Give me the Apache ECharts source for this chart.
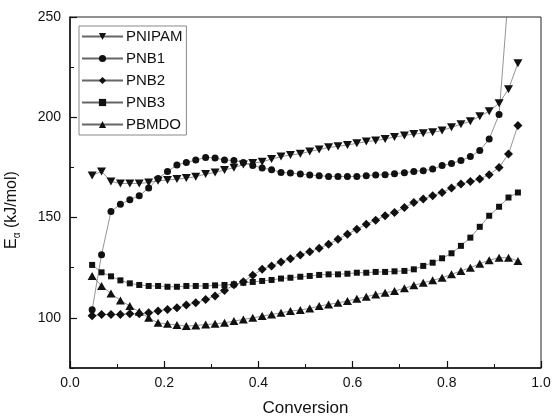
<!DOCTYPE html>
<html>
<head>
<meta charset="utf-8">
<script src="https://cdn.jsdelivr.net/npm/echarts@6/dist/echarts.min.js"></script>
<style>html,body{margin:0;padding:0;background:#fff}#c{width:552px;height:416px}</style>
</head>
<body>
<div id="c"></div>
<script>
const conversion = [0.047,0.067,0.087,0.107,0.127,0.147,0.167,0.187,0.207,0.227,0.247,0.267,0.288,0.308,0.328,0.348,0.368,0.388,0.408,0.428,0.448,0.468,0.489,0.509,0.529,0.549,0.569,0.589,0.609,0.629,0.649,0.669,0.689,0.710,0.730,0.750,0.770,0.790,0.810,0.830,0.850,0.870,0.890,0.911,0.931,0.951];
const seriesNames = ['PNIPAM','PNB1','PNB2','PNB3','PBMDO'];
const pnipam = [171,173,168,167,167,167,167.5,168.4,168.7,169.2,169.7,170.4,171.7,172.5,173.7,174.9,176.4,177.2,177.8,179.2,180.4,181.2,181.8,183,183.9,185,185.5,186.2,187,187.9,188.4,189.2,190.2,190.9,191.7,192,192.5,193.4,195,196.5,198,200.5,203,207,214,227];
const pnb1 = [104,131.5,153,156.7,158.9,160.9,164.7,169.5,173,176.2,177.5,178.7,180,179.7,178.7,178.5,177.5,176,174.7,173.9,172.5,172.2,171.7,171.2,170.9,170.5,170.5,170.5,170.5,170.9,171.2,171.4,171.8,172.4,173,173.4,174.2,175.9,177,178.4,180.4,183.4,189.2,201.4,262];
const pnb2 = [101,101.7,101.7,101.7,102,102,102.5,103.4,104.2,105,106.4,107.5,109.2,110.9,113.6,116.5,118,121.2,124.2,125.9,127.9,129.5,131.4,133,134.7,136.7,139.2,141.7,144.2,146.7,148.7,150.9,152.5,155,157.5,159.2,160.9,162.5,164.7,166.7,168,169.2,171.4,175,181.7,195.9];
const pnb3 = [126.4,122.7,120.7,118.7,117.2,116.4,115.9,115.9,115.5,115.5,115.9,115.9,115.9,116.2,116.4,116.7,117.5,117.9,118.4,118.9,119.6,120,120.5,120.9,121.4,121.7,121.7,122,122.5,122.5,122.9,122.9,123.2,123.4,124.2,125.9,127.5,129.7,132.2,135.9,140,145.4,150.9,155.4,160,162.5];
const pbmdo = [120.9,115.9,112.2,108.7,105.9,103,100,97.5,97,96.4,95.9,96.2,96.7,97,97.5,98.4,99.2,100,100.9,101.7,102.5,103.4,103.9,104.7,105.9,106.7,107.5,108.4,109.5,110.5,111.7,112.5,113.4,114.7,116.2,117.5,118.7,120,121.7,123.4,125,127,128.7,130,130,128.4];
const xTicks = [0.0,0.2,0.4,0.6,0.8,1.0];
const yTicks = [100,150,200,250];

const FONT = 'Liberation Sans, Arial, sans-serif';
function pts(arr){ const out=[]; for(let i=0;i<arr.length;i++){ out.push([conversion[i], arr[i]]); } return out; }
const styles = [
  {data: pnipam, symbol:'triangle', rotate:180, size:[9,8]},
  {data: pnb1, symbol:'circle', rotate:0, size:7},
  {data: pnb2, symbol:'diamond', rotate:0, size:[9,9]},
  {data: pnb3, symbol:'rect', rotate:0, size:6},
  {data: pbmdo, symbol:'triangle', rotate:0, size:[9,8]}
];
const chart = echarts.init(document.getElementById('c'), null, {renderer:'canvas'});
const option = {
  backgroundColor:'#fff',
  animation:false,
  textStyle:{fontFamily:FONT},
  grid:[
    {left:70, right:11, top:17, bottom:48, show:true, borderColor:'#222', borderWidth:1, backgroundColor:'transparent', containLabel:false, outerBoundsMode:'none'},
    {left:70, right:11, top:17, bottom:98.14, show:false, containLabel:false, outerBoundsMode:'none'}
  ],
  legend:{
    orient:'vertical', left:79, top:26,
    data:seriesNames,
    itemWidth:41, itemHeight:9, itemGap:7,
    padding:[3,4,3,2],
    borderColor:'#888', borderWidth:1,
    textStyle:{fontFamily:FONT, fontSize:15, color:'#111', padding:[0,0,0,-2]}
  },
  xAxis:[
    {gridIndex:0, type:'value', min:0, max:1, interval:0.2,
     axisLine:{show:true, onZero:false, lineStyle:{color:'#111', width:1.5}},
     axisTick:{show:true, inside:true, length:7, lineStyle:{color:'#111', width:1.2}},
     minorTick:{show:true, splitNumber:2, length:4, lineStyle:{color:'#111', width:1}},
     axisLabel:{fontFamily:FONT, fontSize:14, color:'#111', margin:8, formatter:(v)=>v.toFixed(1)},
     splitLine:{show:false},
     name:'Conversion', nameLocation:'middle', nameGap:32,
     nameTextStyle:{fontFamily:FONT, fontSize:17, color:'#111'}},
    {gridIndex:1, type:'value', min:0, max:1, show:false}
  ],
  yAxis:[
    {gridIndex:0, type:'value', min:75, max:250, interval:25,
     axisLine:{show:true, onZero:false, lineStyle:{color:'#111', width:1.5}},
     axisTick:{show:true, inside:true, length:4, lineStyle:{color:'#111', width:1}},
     axisLabel:{show:false}, splitLine:{show:false}},
    {gridIndex:1, type:'value', min:100, max:250, interval:50,
     axisLine:{show:false},
     axisTick:{show:true, inside:true, length:7, lineStyle:{color:'#111', width:1.2}},
     axisLabel:{fontFamily:FONT, fontSize:14, color:'#111', margin:9},
     splitLine:{show:false}}
  ],
  graphic:[{
    type:'text', x:13, y:210, rotation:Math.PI/2,
    style:{
      text:'{e|E}{s|α}{e| (kJ/mol)}',
      align:'center', verticalAlign:'middle',
      rich:{
        e:{fontFamily:FONT, fontSize:16, fill:'#111', lineHeight:18, verticalAlign:'top'},
        s:{fontFamily:FONT, fontSize:10, fill:'#111', lineHeight:10, verticalAlign:'bottom'}
      }
    }
  }],
  series: styles.map((s,i)=>({
    name: seriesNames[i], type:'line', xAxisIndex:0, yAxisIndex:0,
    data: pts(s.data),
    symbol: s.symbol, symbolRotate: s.rotate, symbolSize: s.size,
    showSymbol:true, clip:true,
    itemStyle:{color:'#111'},
    lineStyle:{color:'#666', width:0.7},
    emphasis:{disabled:true}
  }))
};
chart.setOption(option);
</script>
</body>
</html>
